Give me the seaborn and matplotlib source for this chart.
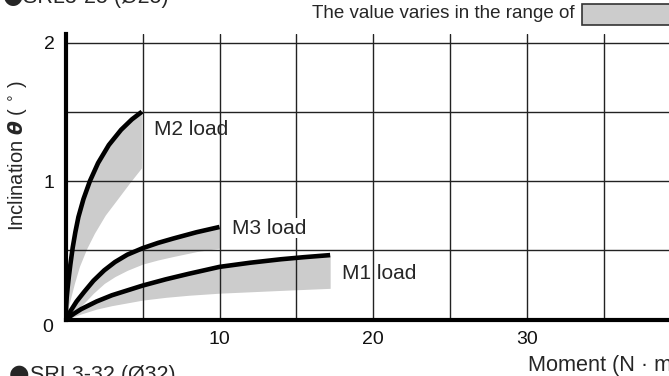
import numpy as np
import matplotlib
matplotlib.use("Agg")
import matplotlib.pyplot as plt
import seaborn as sns
from matplotlib.patches import Rectangle

# M2 load (upper = black curve, lower = edge of grey band)
m2_x = [0, 0.02, 0.06, 0.12, 0.2, 0.3, 0.45, 0.62, 0.82, 1.15, 1.57, 2.1, 2.8, 3.6, 4.3, 4.95]
m2_hi = [0, 0.09, 0.16, 0.23, 0.31, 0.40, 0.52, 0.63, 0.74, 0.87, 1.0, 1.13, 1.26, 1.37, 1.445, 1.5]
m2_lo_x = [0, 0.1, 0.32, 0.6, 0.92, 1.4, 1.9, 2.6, 3.42, 4.2, 4.95]
m2_lo = [0, 0.05, 0.14, 0.26, 0.38, 0.51, 0.62, 0.75, 0.87, 0.985, 1.09]

# M3 load
m3_x = [0, 0.3, 0.7, 1.2, 1.8, 2.5, 3.2, 4.0, 5.0, 6.0, 7.0, 8.5, 10.0]
m3_hi = [0, 0.06, 0.13, 0.2, 0.28, 0.355, 0.415, 0.468, 0.515, 0.553, 0.585, 0.63, 0.668]
m3_lo = [0, 0.03, 0.07, 0.12, 0.19, 0.26, 0.31, 0.355, 0.40, 0.43, 0.455, 0.49, 0.515]

# M1 load
m1_x = [0, 0.5, 1, 2, 3, 4, 5, 6.5, 8, 10, 12, 14, 15.5, 17.2]
m1_hi = [0, 0.04, 0.075, 0.13, 0.175, 0.21, 0.245, 0.29, 0.33, 0.38, 0.41, 0.435, 0.45, 0.465]
m1_lo = [0, 0.02, 0.04, 0.075, 0.1, 0.12, 0.14, 0.16, 0.175, 0.19, 0.2, 0.21, 0.217, 0.225]

x_ticks = [5, 10, 15, 20, 25, 30, 35, 40]
x_labels = ["", "10", "", "20", "", "30", "", ""]
y_ticks = [0.5, 1, 1.5, 2]
y_labels = ["", "1", "", "2"]

sns.set_style("white")
plt.rcParams["font.family"] = ["Liberation Sans", "DejaVu Sans"]

W, H = 669, 376
fig = plt.figure(figsize=(W / 100, H / 100), dpi=100)
ax = fig.add_axes([65.8 / W, (H - 319.5) / H, 614.8 / W, (319.5 - 34) / H])

band = "#cccccc"
ax.fill(m2_x + m2_lo_x[::-1], m2_hi + m2_lo[::-1], color=band, lw=0, zorder=1)
ax.fill_between(m3_x, m3_lo, m3_hi, color=band, lw=0, zorder=1)
ax.fill_between(m1_x, m1_lo, m1_hi, color=band, lw=0, zorder=1)

for xs, ys in [(m2_x, m2_hi), (m3_x, m3_hi), (m1_x, m1_hi)]:
    sns.lineplot(x=xs, y=ys, ax=ax, color="black", lw=3.3, solid_capstyle="butt",
                 solid_joinstyle="round", zorder=4)

ax.set_xlim(0, 40)
ax.set_ylim(0, 285.5 / 138.5)
ax.set_xticks(x_ticks)
ax.set_xticklabels(x_labels)
ax.set_yticks(y_ticks)
ax.set_yticklabels(y_labels)
ax.tick_params(length=0, labelsize=14, colors="#111111")
ax.tick_params(axis="x", pad=8)
ax.tick_params(axis="y", pad=8)
ax.grid(True, color="#222222", lw=1)
ax.set_axisbelow(False)
for s in ["top", "right"]:
    ax.spines[s].set_visible(False)
for s in ["left", "bottom"]:
    ax.spines[s].set_linewidth(3)
    ax.spines[s].set_color("black")
    ax.spines[s].set_zorder(5)

# y=0 label
ax.text(-0.8, 0.0, "0", ha="right", va="top", fontsize=14, color="#111111")

ax.text(5.75, 1.37, "M2 load", fontsize=15, va="center", ha="left")
ax.text(10.8, 0.66, "M3 load", fontsize=15, va="center", ha="left",
        bbox=dict(fc="white", ec="none", pad=0.5))
ax.text(18.0, 0.335, "M1 load", fontsize=15, va="center", ha="left")

fig.text(18 / W, 1 - 156 / H, r"Inclination $\boldsymbol{\theta}$ ( $^{\circ}$ )",
         rotation=90, ha="center", va="center", fontsize=14.5)
fig.text(528 / W, 1 - 365 / H, "Moment (N · m)", ha="left", va="center", fontsize=15.6)

# cut-off section titles
fig.text(3 / W, 1 - 3 / H, "●", family="DejaVu Sans", ha="left", va="baseline", fontsize=17)
fig.text(23 / W, 1 - 3 / H, "SRL3-25 (Ø25)", ha="left", va="baseline", fontsize=15.5)
fig.text(9 / W, 1 - 381 / H, "●", family="DejaVu Sans", ha="left", va="baseline", fontsize=17)
fig.text(30 / W, 1 - 381 / H, "SRL3-32 (Ø32)", ha="left", va="baseline", fontsize=15.5)

fig.text(575 / W, 1 - 14 / H, "The value varies in the range of", ha="right",
         va="center", fontsize=13.5)
fig.patches.append(Rectangle((582 / W, 1 - 25 / H), 110 / W, 21 / H,
                             transform=fig.transFigure, fc=band, ec="#333333", lw=1.2))

fig.savefig("out.png", dpi=100)
